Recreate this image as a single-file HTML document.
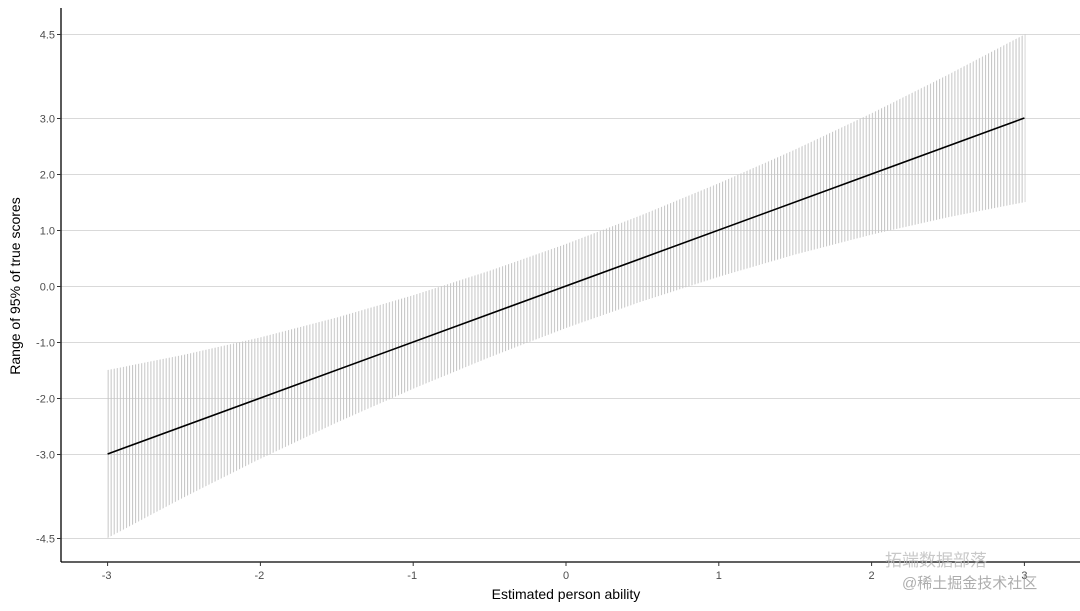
<!DOCTYPE html>
<html><head><meta charset="utf-8"><style>
body{margin:0;background:#fff;}
svg{display:block;font-family:"Liberation Sans","Noto Sans CJK SC",sans-serif;}
</style></head><body>
<svg width="1080" height="611" viewBox="0 0 1080 611">
<defs>
<pattern id="vl" patternUnits="userSpaceOnUse" x="107.6" y="0" width="3.057" height="10">
<rect x="0" y="0" width="1" height="10" fill="#c4c4c4"/>
</pattern>
<clipPath id="env"><polygon points="107.6,370 184,354.8 260.4,337.4 336.8,317.5 413.2,295.3 489.6,270.8 566,244 642.4,214.8 718.8,183.3 795.2,149.5 871.6,113.3 948,74.8 1025.4,34 1025.4,202 948,217.2 871.6,234.6 795.2,254.5 718.8,276.7 642.4,301.2 566,328 489.6,357.2 413.2,388.7 336.8,422.5 260.4,458.7 184,497.2 107.6,538"/></clipPath>
</defs>
<g stroke="#d9d9d9" stroke-width="1">
<line x1="61" x2="1080" y1="34.5" y2="34.5"/>
<line x1="61" x2="1080" y1="118.5" y2="118.5"/>
<line x1="61" x2="1080" y1="174.5" y2="174.5"/>
<line x1="61" x2="1080" y1="230.5" y2="230.5"/>
<line x1="61" x2="1080" y1="286.5" y2="286.5"/>
<line x1="61" x2="1080" y1="342.5" y2="342.5"/>
<line x1="61" x2="1080" y1="398.5" y2="398.5"/>
<line x1="61" x2="1080" y1="454.5" y2="454.5"/>
<line x1="61" x2="1080" y1="538.5" y2="538.5"/>
</g>
<rect x="100" y="30" width="930" height="512" fill="url(#vl)" clip-path="url(#env)"/>
<line x1="107.6" y1="454" x2="1024.4" y2="118" stroke="#000" stroke-width="1.6"/>
<line x1="61" y1="8" x2="61" y2="562" stroke="#000" stroke-width="1.3"/>
<line x1="61" y1="562" x2="1080" y2="562" stroke="#000" stroke-width="1.3"/>
<g stroke="#333" stroke-width="1">
<line x1="57" x2="61" y1="34.5" y2="34.5"/><line x1="57" x2="61" y1="118.5" y2="118.5"/>
<line x1="57" x2="61" y1="174.5" y2="174.5"/><line x1="57" x2="61" y1="230.5" y2="230.5"/>
<line x1="57" x2="61" y1="286.5" y2="286.5"/><line x1="57" x2="61" y1="342.5" y2="342.5"/>
<line x1="57" x2="61" y1="398.5" y2="398.5"/><line x1="57" x2="61" y1="454.5" y2="454.5"/>
<line x1="57" x2="61" y1="538.5" y2="538.5"/>
<line x1="107.6" x2="107.6" y1="562" y2="566"/><line x1="260.4" x2="260.4" y1="562" y2="566"/>
<line x1="413.2" x2="413.2" y1="562" y2="566"/><line x1="566" x2="566" y1="562" y2="566"/>
<line x1="718.8" x2="718.8" y1="562" y2="566"/><line x1="871.6" x2="871.6" y1="562" y2="566"/>
<line x1="1024.4" x2="1024.4" y1="562" y2="566"/>
</g>
<g fill="#4d4d4d" font-size="11" text-anchor="end">
<text x="55" y="38.5">4.5</text><text x="55" y="122.5">3.0</text><text x="55" y="178.5">2.0</text>
<text x="55" y="234.5">1.0</text><text x="55" y="290.5">0.0</text><text x="55" y="346.5">-1.0</text>
<text x="55" y="402.5">-2.0</text><text x="55" y="458.5">-3.0</text><text x="55" y="542.5">-4.5</text>
</g>
<g fill="#4d4d4d" font-size="11" text-anchor="middle">
<text x="106.6" y="579">-3</text><text x="259.4" y="579">-2</text><text x="412.2" y="579">-1</text>
<text x="566" y="579">0</text><text x="718.8" y="579">1</text><text x="871.6" y="579">2</text><text x="1024.4" y="579">3</text>
</g>
<text x="566" y="599" font-size="14" text-anchor="middle" fill="#000">Estimated person ability</text>
<text transform="translate(20,286) rotate(-90)" font-size="14" text-anchor="middle" fill="#000">Range of 95% of true scores</text>
<text x="885" y="566" font-size="17" fill="#bbb" opacity="0.8">拓端数据部落</text>
<text x="902" y="588" font-size="15" fill="#999" opacity="0.8">@稀土掘金技术社区</text>
</svg>
</body></html>
